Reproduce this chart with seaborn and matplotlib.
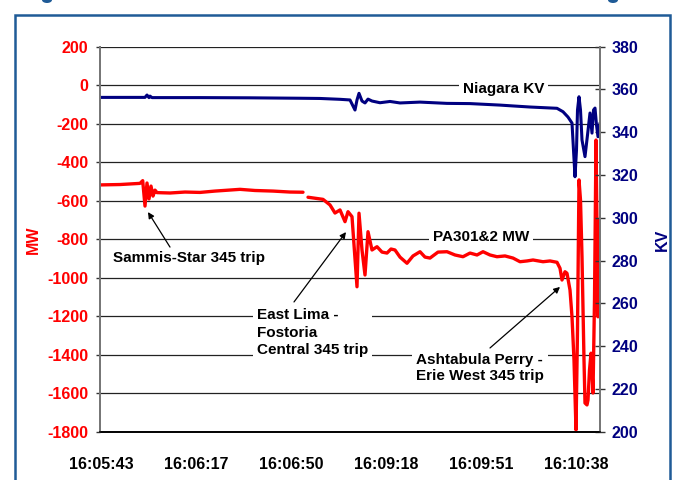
import numpy as np
import pandas as pd
import matplotlib
matplotlib.use("Agg")
import matplotlib.pyplot as plt
from matplotlib.patches import Rectangle, Ellipse
import seaborn as sns

# Time axis labels (category positions along the sample index)
time_ticks = [0, 95, 190, 285, 380, 475]
time_labels = ["16:05:43", "16:06:17", "16:06:50", "16:09:18", "16:09:51", "16:10:38"]

# PA301&2 MW flow (NaN marks a gap in the recording)
mw_sample = [-1, 19, 39, 41.7, 44, 46, 48, 50, 52, 54, 56, 69, 84, 99, 114, 139, 154, 172, 189, 202,
             204.5,
             207, 222, 229, 234, 239, 244, 247, 251, 256, 258, 261, 264, 267, 271, 276, 281, 286, 290,
             294, 299, 306, 312, 319, 324, 329, 337, 346, 354, 362, 369, 376, 382, 389, 396, 404, 412,
             419, 426, 432, 442, 449, 456, 459, 461, 464, 466, 469, 471, 473, 475, 476.5, 478, 479.5,
             481, 483, 484, 486, 487, 488.5, 490, 491, 492, 493.5, 495, 497, 499]
mw_values = [-518, -516, -510, -496, -628, -508, -591, -524, -576, -545, -558, -560, -555, -557, -550,
             -541, -547, -550, -555, -556,
             np.nan,
             -582, -593, -622, -664, -648, -709, -657, -683, -1047, -665, -856, -986, -761, -856, -839,
             -867, -872, -851, -856, -893, -925, -887, -865, -893, -898, -867, -865, -882, -891, -872,
             -882, -865, -882, -891, -887, -898, -917, -913, -908, -917, -913, -920, -951, -1012, -969,
             -977, -1064, -1203, -1428, -1791, -1272, -492, -596, -891, -1428, -1651, -1661, -1635,
             -1480, -1392, -1480, -1599, -1116, -285, -1203, -700]

# Niagara bus voltage, kV
kv_sample = [-1, 44, 46, 48, 49, 51, 99, 149, 199, 219, 239, 249, 254, 256, 258, 261, 264, 267, 271,
             279, 289, 299, 319, 346, 369, 399, 412, 429, 456, 462, 467, 471, 472.5, 474, 475.5, 476.5,
             478, 479.5, 481, 484, 486.5, 489, 491, 492.5, 494, 495.5, 497, 499]
kv_values = [356.3, 356.3, 357.4, 356.2, 356.9, 356.2, 356.2, 356.1, 355.9, 355.8, 355.4, 355.1, 350.4,
             355.1, 358.2, 354.6, 353.7, 355.5, 354.6, 353.8, 354.4, 353.7, 354.1, 353.5, 353.4, 352.7,
             352.3, 351.8, 351.2, 349.6, 347.1, 344.3, 331.7, 319.2, 331.7, 350.4, 356.6, 350.4, 336.4,
             328.6, 338.7, 349.0, 339.6, 350.4, 351.3, 343.4, 337.9, 344.3]

mw_ticks = list(range(-1800, 201, 200))
kv_ticks = list(range(200, 381, 20))

RED = "#ff0000"
NAVY = "#000080"
FRAME = "#1f5b97"

sns.set_style("white")
plt.rcParams["font.family"] = ["Liberation Sans", "DejaVu Sans"]
plt.rcParams["font.weight"] = "bold"

fig = plt.figure(figsize=(6.75, 4.8), dpi=100)
W, H = 675, 480
ax = fig.add_axes([100 / W, 1 - 431.7 / H, 500 / W, 385 / H])
ax2 = ax.twinx()

# Red MW trace, split into recorded segments
mw = pd.DataFrame({"sample": mw_sample, "MW": mw_values})
mw["segment"] = mw["MW"].isna().cumsum()
mw = mw.dropna()
sns.lineplot(data=mw, x="sample", y="MW", units="segment", estimator=None,
             color=RED, lw=2.4, ax=ax, legend=False, zorder=3)

kv = pd.DataFrame({"sample": kv_sample, "KV": kv_values})
sns.lineplot(data=kv, x="sample", y="KV", color=NAVY, lw=2.2, ax=ax2, legend=False)

# Axes limits and ticks
ax.set_xlim(-1, 499)
ax.set_ylim(-1800, 200)
ax2.set_ylim(200, 380)
ax.set_xticks(time_ticks)
ax.set_xticklabels(time_labels, fontsize=11.5, fontweight="bold", color="black")
ax.set_yticks(mw_ticks)
ax.set_yticklabels([str(v) for v in mw_ticks], fontsize=11.5, fontweight="bold", color=RED)
ax2.set_yticks(kv_ticks)
ax2.set_yticklabels([str(v) for v in kv_ticks], fontsize=11.5, fontweight="bold", color=NAVY)

ax.tick_params(axis="x", length=0, pad=18)
ax.tick_params(axis="y", direction="out", length=3, width=1, color="#333333", pad=5.5)
ax2.tick_params(axis="y", direction="inout", length=7, width=1, color="#333333", pad=4.5)

ax.grid(axis="y", color="#222222", lw=0.9)
ax.grid(axis="x", visible=False)
ax.set_xlabel("")
ax.set_ylabel("")
ax2.set_ylabel("")

for a in (ax, ax2):
    a.spines["top"].set_visible(False)
    a.spines["left"].set_color("#777777")
    a.spines["left"].set_linewidth(1.4)
    a.spines["right"].set_color("#777777")
    a.spines["right"].set_linewidth(1.4)
    a.spines["bottom"].set_color("black")
    a.spines["bottom"].set_linewidth(1.2)

fig.text(33 / W, 1 - 240 / H, "MW", rotation=90, color=RED, fontsize=11.5,
         fontweight="bold", ha="center", va="center")
fig.text(662 / W, 1 - 240 / H, "KV", rotation=90, color=NAVY, fontsize=11.5,
         fontweight="bold", ha="center", va="center")

# Event labels
box = dict(boxstyle="square,pad=0.25", fc="white", ec="none")
lab = dict(fontsize=11, fontweight="bold", color="black", ha="left", va="center", zorder=4, bbox=box)
ax.text(362, -20, "Niagara KV", **lab)
ax.text(332, -789, "PA301&2 MW", **lab)
ax.text(12, -898, "Sammis-Star 345 trip", **lab)
ax.text(156, -1285, "East Lima -\nFostoria\nCentral 345 trip", linespacing=1.3, **lab)
ax.text(315, -1469, "Ashtabula Perry -\nErie West 345 trip", linespacing=1.2, **lab)

arrow = dict(arrowstyle="-|>", color="black", lw=0.9, mutation_scale=9, shrinkA=0, shrinkB=0)
ax.annotate("", xy=(47, -659), xytext=(69, -841), arrowprops=arrow, zorder=5)
ax.annotate("", xy=(245, -763), xytext=(193, -1126), arrowprops=arrow, zorder=5)
ax.annotate("", xy=(459, -1048), xytext=(389, -1365), arrowprops=arrow, zorder=5)

# Page frame
fig.patches.append(Rectangle((15 / W, -0.05), (670 - 15) / W, 1.05 - 15 / H,
                             transform=fig.transFigure, fill=False, ec=FRAME, lw=1.8))
for cx in (47, 613):
    fig.patches.append(Ellipse((cx / W, 1.0), 10 / W, 6 / H, transform=fig.transFigure,
                               fc=FRAME, ec="none"))

fig.savefig("out.png", dpi=100)
